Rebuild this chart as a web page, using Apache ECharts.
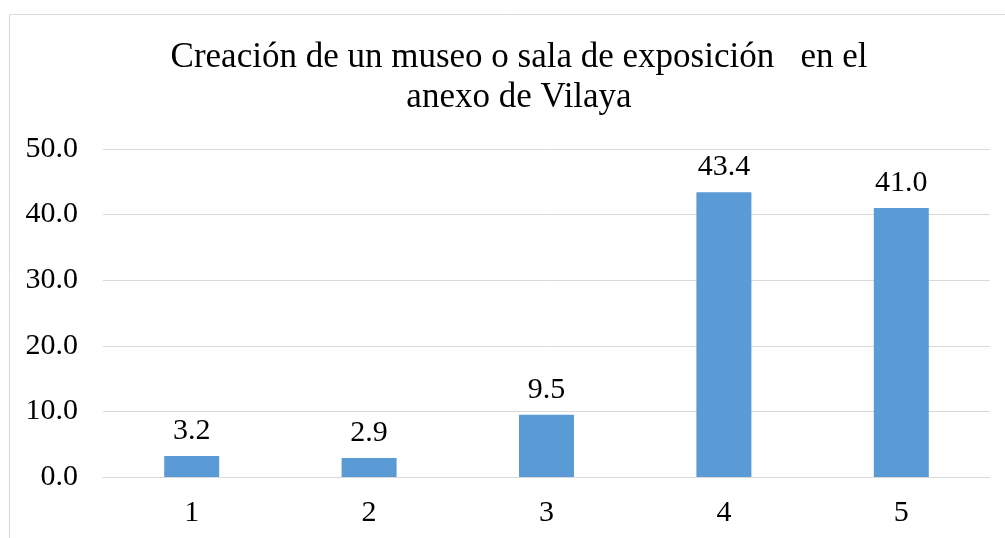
<!DOCTYPE html>
<html>
<head>
<meta charset="utf-8">
<script src="https://cdn.jsdelivr.net/npm/echarts@6/dist/echarts.min.js"></script>
<style>
  html, body { margin: 0; padding: 0; background: #fff; }
  #chart { width: 1005px; height: 538px; }
</style>
</head>
<body>
<div id="chart"></div>
<script>
var categories = ['1', '2', '3', '4', '5'];
var values = [3.2, 2.9, 9.5, 43.4, 41.0];
var titleText = 'Creación de un museo o sala de exposición   en el\nanexo de Vilaya';

var myChart = echarts.init(document.getElementById('chart'));
var font = '"Liberation Serif", "Times New Roman", serif';

var option = {
    backgroundColor: '#fff',
    animation: false,
    graphic: [{
        type: 'rect',
        shape: { x: 9.5, y: 14.5, width: 1100, height: 600 },
        style: { fill: null, stroke: '#d9d9d9', lineWidth: 1 }
    }],
    title: {
        text: titleText,
        left: 514,
        top: 33,
        textAlign: 'center',
        textStyle: {
            fontFamily: font,
            fontSize: 35,
            fontWeight: 'normal',
            color: '#000',
            lineHeight: 40
        }
    },
    grid: { left: 103, right: 15, top: 149, bottom: 61 },
    xAxis: {
        type: 'category',
        data: categories,
        axisLine: { lineStyle: { color: '#d9d9d9', width: 1 } },
        axisTick: { show: false },
        axisLabel: { fontFamily: font, fontSize: 30, color: '#000', margin: 21 }
    },
    yAxis: {
        type: 'value',
        min: 0,
        max: 50,
        interval: 10,
        axisLine: { show: false },
        axisTick: { show: false },
        splitLine: { lineStyle: { color: '#d9d9d9', width: 1 } },
        axisLabel: {
            fontFamily: font, fontSize: 30, color: '#000', margin: 25,
            formatter: function (v) { return v.toFixed(1); }
        }
    },
    series: [{
        type: 'bar',
        data: values,
        barWidth: 55,
        itemStyle: { color: '#5b9bd5' },
        label: {
            show: true,
            position: 'top',
            distance: 10,
            fontFamily: font,
            fontSize: 30,
            color: '#000',
            formatter: function (p) { return p.value.toFixed(1); }
        }
    }]
};

option && myChart.setOption(option);
</script>
</body>
</html>
